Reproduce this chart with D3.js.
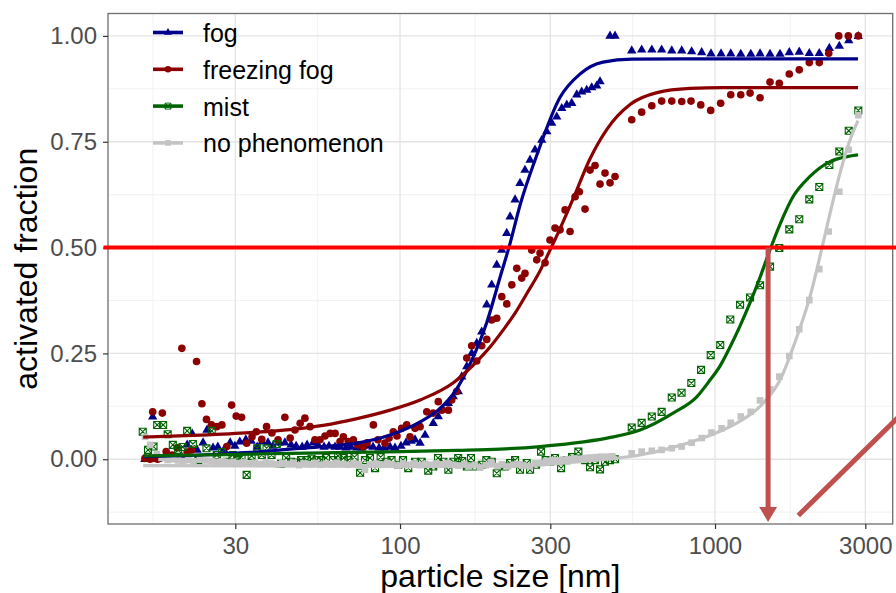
<!DOCTYPE html>
<html>
<head>
<meta charset="utf-8">
<script src="https://cdn.jsdelivr.net/npm/d3@7"></script>
<style>
	body { margin: 0; background: #fff; }
	svg { display: block; font-family: "Liberation Sans", Arial, sans-serif; }
</style>
</head>
<body>
<div id="chart"></div>
<script>
//// Activated fraction vs particle size ////

// Categories (legend order)
const seriesNames = ["fog", "freezing fog", "mist", "no phenomenon"];

// Axis ticks
const xTicks = [30, 100, 300, 1000, 3000];
const yTicks = [0, 0.25, 0.5, 0.75, 1.0];

// Measured points: [particle size nm, activated fraction]
const fogPts = [[15.5,0.000],[16.1,0.002],[16.4,0.100],[17.0,0.000],[17.8,0.003],[18.6,0.000],[19.5,0.003],[20.3,0.005],[21.1,0.034],[21.9,0.060],[22.7,0.022],[23.7,0.039],[24.4,0.069],[25.5,0.027],[26.4,0.029],[27.6,0.022],[28.9,0.039],[29.9,0.031],[31.0,0.041],[32.4,0.046],[33.7,0.043],[35.2,0.029],[36.5,0.041],[38.1,0.039],[39.5,0.031],[41.3,0.039],[43.1,0.039],[45.1,0.034],[46.8,0.031],[48.9,0.029],[50.7,0.034],[53.0,0.039],[54.9,0.034],[57.4,0.029],[59.5,0.031],[62.2,0.029],[64.5,0.029],[67.4,0.027],[69.9,0.029],[73.0,0.027],[75.8,0.027],[79.2,0.031],[82.1,0.029],[85.8,0.027],[89.0,0.027],[93.0,0.029],[96.4,0.027],[100.7,0.031],[104.5,0.039],[108.4,0.043],[111.6,0.046],[115.8,0.038],[120.1,0.057],[127.5,0.085],[132.3,0.101],[137.3,0.116],[142.4,0.132],[147.6,0.148],[153.1,0.160],[157.0,0.195],[162.9,0.219],[168.9,0.250],[175.2,0.274],[181.7,0.301],[188.5,0.365],[195.5,0.412],[202.8,0.459],[210.4,0.494],[218.2,0.534],[223.6,0.573],[231.9,0.613],[240.4,0.652],[249.3,0.683],[258.7,0.707],[268.3,0.731],[281.8,0.754],[292.3,0.774],[303.1,0.794],[314.4,0.809],[326.2,0.829],[338.4,0.837],[350.9,0.841],[364.0,0.861],[377.4,0.868],[391.5,0.872],[406.1,0.878],[421.2,0.882],[431.5,0.892],[464.2,1.000],[481.5,1.000],
	[544,0.965],[585,0.967],[630,0.967],[677,0.967],[729,0.965],[784,0.965],[843,0.963],[907,0.961],[971,0.958],[1045,0.958],[1122,0.958],[1207,0.957],[1299,0.957],[1390,0.958],[1495,0.957],[1608,0.957],[1721,0.961],[1851,0.962],[1992,0.959],[2143,0.959],[2306,0.971],[2481,0.976],[2658,0.989],[2850,0.999]];

const freezingPts = [[15.5,0.002],[16.1,0.000],[16.4,0.112],[17.0,0.000],[17.6,0.109],[18.1,0.018],[18.9,0.010],[19.6,0.027],[20.3,0.262],[21.1,0.017],[21.8,0.022],[22.6,0.231],[23.5,0.131],[24.3,0.094],[25.2,0.081],[26.2,0.077],[27.2,0.081],[28.2,0.030],[29.2,0.128],[30.2,0.102],[31.4,0.099],[32.6,0.038],[33.9,0.053],[35.0,0.065],[36.4,0.047],[37.7,0.077],[39.2,0.062],[41.0,0.046],[43.1,0.099],[44.8,0.050],[46.4,0.069],[48.2,0.085],[49.9,0.097],[51.8,0.077],[53.7,0.046],[55.7,0.046],[57.8,0.055],[60.0,0.061],[62.2,0.061],[64.5,0.042],[66.1,0.053],[68.5,0.042],[71.1,0.046],[73.4,0.034],[76.3,0.029],[78.6,0.039],[82.3,0.081],[85.1,0.046],[89.6,0.038],[92.3,0.050],[95.2,0.065],[97.8,0.055],[101.2,0.073],[105.0,0.081],[107.6,0.053],[111.6,0.073],[115.8,0.077],[121.6,0.112],[127.5,0.109],[132.3,0.136],[135.7,0.116],[142.4,0.116],[145.9,0.140],[151.3,0.160],[162.9,0.239],[168.9,0.268],[175.2,0.232],[181.7,0.268],[188.5,0.283],[195.5,0.329],[202.8,0.333],[210.4,0.384],[218.2,0.367],[226.4,0.412],[234.8,0.451],[243.4,0.428],[249.3,0.439],[261.9,0.494],[271.7,0.471],[278.3,0.487],[288.7,0.464],[299.4,0.518],[310.5,0.546],[322.2,0.542],[334.2,0.589],[346.6,0.538],[359.5,0.620],[370.9,0.632],[386.7,0.591],[401.1,0.683],[416.0,0.694],[431.5,0.650],[447.5,0.676],[464.2,0.653],[481.5,0.668],
	[544,0.802],[585,0.820],[630,0.835],[677,0.846],[729,0.846],[784,0.845],[839,0.846],[901,0.837],[969,0.824],[1042,0.841],[1122,0.861],[1207,0.861],[1292,0.865],[1390,0.854],[1495,0.891],[1600,0.888],[1721,0.910],[1851,0.920],[1992,0.937],[2143,0.937],[2296,0.959],[2470,1.000],[2650,1.000],[2850,1.000]];

const mistPts = [[15.25,0.065],[15.85,0.022],[16.5,0.030],[16.95,0.081],[17.7,0.081],[18.3,0.059],[19.0,0.034],[19.75,0.022],[20.4,0.029],[21.1,0.067],[22.0,0.036],[22.9,-0.002],[24.3,0.026],[25.25,0.067],[26.2,0.010],[27.2,0.017],[28.2,-0.006],[29.4,0.010],[30.4,-0.002],[31.4,0.005],[32.6,-0.037],[33.8,0.008],[35.2,0.026],[36.4,0.010],[37.7,0.026],[39.1,0.010],[40.6,0.036],[41.9,-0.011],[43.5,0.003],[45.1,-0.006],[46.8,-0.008],[48.5,-0.002],[50.6,-0.002],[52.4,0.001],[54.4,-0.002],[56.1,-0.002],[58.2,0.003],[61.3,-0.002],[63.6,0.008],[66.3,0.003],[68.6,-0.002],[71.7,0.005],[74.7,-0.032],[77.4,-0.002],[80.3,0.003],[83.3,-0.021],[86.8,0.005],[90.7,-0.006],[94.0,-0.002],[98.8,-0.013],[102.2,-0.002],[106.2,-0.021],[111.6,-0.006],[117.2,-0.006],[122.9,-0.027],[127.5,-0.017],[132.0,0.003],[137.3,-0.006],[142.4,-0.025],[147.6,-0.006],[153.0,0.003],[157.5,-0.004],[162.9,-0.017],[168.0,0.003],[172.6,-0.017],[181.7,-0.013],[188.0,-0.002],[195.5,-0.006],[202.8,-0.033],[215.0,-0.017],[223.6,-0.009],[231.9,-0.002],[240.4,-0.025],[252.5,-0.009],[258.7,-0.025],[270.3,-0.013],[280.3,0.018],[290.0,-0.002],[299.4,-0.006],[310.5,0.003],[324.6,-0.021],[338.4,-0.002],[351.7,0.005],[368.3,0.018],[386.7,-0.002],[401.1,-0.019],[416.0,-0.002],[431.5,-0.024],[447.5,-0.006],[464.2,-0.002],[481.5,0.000],
	[544,0.075],[585,0.086],[630,0.101],[677,0.112],[729,0.146],[783,0.157],[841,0.180],[903,0.211],[969,0.246],[1039,0.270],[1118,0.330],[1201,0.365],[1292,0.382],[1390,0.411],[1495,0.455],[1600,0.499],[1721,0.543],[1851,0.567],[1992,0.614],[2143,0.643],[2306,0.695],[2481,0.727],[2658,0.776],[2850,0.824]];

const noPhenPts = [[15.5,0.053],[16.1,0.034],[16.9,0.012],[17.5,0.003],[18.3,-0.002],[19.0,0.000],[19.75,-0.003],[20.5,-0.004],[21.4,-0.002],[22.1,-0.005],[23.2,-0.001],[24.1,-0.003],[25.2,-0.004],[26.2,-0.006],[27.3,-0.005],[28.3,-0.008],[29.5,-0.006],[30.6,-0.009],[31.9,-0.007],[33.1,-0.010],[34.6,-0.008],[35.9,-0.011],[37.5,-0.007],[39.0,-0.010],[40.7,-0.012],[42.3,-0.009],[44.1,-0.011],[45.9,-0.008],[47.8,-0.014],[49.6,-0.010],[51.8,-0.012],[53.7,-0.009],[56.1,-0.013],[58.2,-0.010],[60.9,-0.012],[63.0,-0.008],[66.0,-0.011],[68.5,-0.013],[71.5,-0.009],[74.1,-0.012],[77.4,-0.025],[80.3,-0.012],[83.9,-0.010],[87.0,-0.013],[91.0,-0.009],[94.3,-0.012],[98.5,-0.015],[102.2,-0.010],[106.8,-0.013],[110.8,-0.010],[115.8,-0.014],[120.1,-0.011],[125.4,-0.013],[130.1,-0.010],[135.9,-0.012],[141.1,-0.009],[147.6,-0.013],[153.1,-0.015],[160.0,-0.011],[165.6,-0.017],[173.0,-0.013],[179.5,-0.020],[187.1,-0.014],[194.5,-0.007],[203.3,-0.016],[210.8,-0.012],[220.3,-0.017],[228.5,-0.013],[238.7,-0.012],[247.4,-0.015],[258.7,-0.017],[268.3,-0.010],[280.3,-0.009],[290.6,-0.004],[303.8,-0.002],[314.7,-0.003],[329.4,-0.001],[341.6,0.000],[356.9,0.002],[370.1,0.001],[386.7,0.003],[401.1,0.004],[419.0,0.005],[434.7,0.006],[455.3,0.006],[472.0,0.007],
	[544,0.014],[585,0.018],[630,0.020],[677,0.022],[729,0.026],[784,0.030],[843,0.039],[907,0.050],[975,0.063],[1049,0.073],[1122,0.086],[1207,0.101],[1299,0.112],[1390,0.139],[1495,0.165],[1600,0.195],[1721,0.244],[1851,0.307],[1992,0.376],[2143,0.449],[2296,0.538],[2481,0.632],[2658,0.731],[2850,0.813]];

// Fitted curves: [particle size nm, activated fraction]
const fogFit = [[15.3,0.006],[23.2,0.010],[33.4,0.016],[44.8,0.024],[57.0,0.030],[73.1,0.038],[93.0,0.057],[115.8,0.088],[134.0,0.120],[149.5,0.160],[166.8,0.225],[188.9,0.325],[207.8,0.430],[223.6,0.510],[240.4,0.600],[272.3,0.720],[322.2,0.855],[372.8,0.910],[441.1,0.938],[545.2,0.945],[896.2,0.946],[2844,0.946]];
const freezingFit = [[15.3,0.052],[23.2,0.057],[33.4,0.063],[44.8,0.070],[57.0,0.080],[73.1,0.096],[93.0,0.116],[115.8,0.140],[147.3,0.180],[170.5,0.222],[193.1,0.265],[212.4,0.305],[231.9,0.345],[253.0,0.392],[278.3,0.445],[299.4,0.494],[322.2,0.545],[354.3,0.615],[401.1,0.710],[454.2,0.780],[537.3,0.838],[654.4,0.866],[833.0,0.876],[1060,0.878],[2844,0.878]];
const mistFit = [[15.3,0.008],[23.2,0.010],[33.4,0.012],[44.8,0.014],[69.4,0.016],[100,0.018],[151.7,0.021],[207.8,0.024],[278.3,0.030],[354.3,0.038],[454.2,0.050],[578.0,0.069],[735.7,0.109],[876.7,0.148],[964.1,0.187],[1037,0.220],[1116,0.265],[1201,0.315],[1292,0.370],[1390,0.430],[1495,0.495],[1608,0.555],[1768,0.620],[2002,0.668],[2318,0.703],[2625,0.715],[2844,0.719]];
const noPhenFit = [[15.3,-0.015],[100,-0.017],[200,-0.016],[278.3,-0.013],[354.3,-0.007],[454.2,0.000],[578.0,0.010],[735.7,0.028],[896.2,0.048],[1037,0.066],[1201,0.090],[1390,0.125],[1608,0.187],[1821,0.290],[2002,0.384],[2154,0.479],[2318,0.581],[2494,0.676],[2683,0.754],[2844,0.800]];

// Annotations (data units)
const threshold = 0.5;
const mistD50 = 1474;
const arrowTipY = -0.148;
const slantFrom = [1838, -0.133];
const slantTo = [4478, 0.150];

function main() {
	const width = 896, height = 593;
	const margin = {top: 13.5, right: 3.3, bottom: 69, left: 108};

	const colors = ["#00008b", "#8b0000", "#006400", "#c4c4c4"];
	const shapes = ["triangle", "circle", "squarex", "square"];
	const series = seriesNames.map((name, i) => ({
		name: name,
		pts: [fogPts, freezingPts, mistPts, noPhenPts][i],
		fit: [fogFit, freezingFit, mistFit, noPhenFit][i],
		color: colors[i],
		shape: shapes[i]
	}));

	const x = d3.scaleLog().domain([11.83, 3665]).range([margin.left, width - margin.right]);
	const y = d3.scaleLinear().domain([-0.153, 1.053]).range([height - margin.bottom, margin.top]);

	const svg = d3.select("#chart").append("svg")
		.attr("width", width)
		.attr("height", height);

	// Grid: minor lines sit halfway (in transformed space) between majors
	const xMinor = d3.pairs([xTicks[0] * xTicks[0] / xTicks[1]].concat(xTicks)).map(([a, b]) => Math.sqrt(a * b));
	const yStep = yTicks[1] - yTicks[0];
	const yMinor = d3.range(yTicks[0] - yStep / 2, y.domain()[1], yStep);

	const grid = svg.append("g");
	grid.selectAll(".xminor").data(xMinor).enter().append("line")
		.attr("x1", d => x(d)).attr("x2", d => x(d))
		.attr("y1", margin.top).attr("y2", height - margin.bottom)
		.attr("stroke", "#f0f0f0").attr("stroke-width", 0.9);
	grid.selectAll(".yminor").data(yMinor).enter().append("line")
		.attr("x1", margin.left).attr("x2", width - margin.right)
		.attr("y1", d => y(d)).attr("y2", d => y(d))
		.attr("stroke", "#f0f0f0").attr("stroke-width", 0.9);
	grid.selectAll(".xmajor").data(xTicks).enter().append("line")
		.attr("x1", d => x(d)).attr("x2", d => x(d))
		.attr("y1", margin.top).attr("y2", height - margin.bottom)
		.attr("stroke", "#e4e4e4").attr("stroke-width", 1.3);
	grid.selectAll(".ymajor").data(yTicks).enter().append("line")
		.attr("x1", margin.left).attr("x2", width - margin.right)
		.attr("y1", d => y(d)).attr("y2", d => y(d))
		.attr("stroke", "#e4e4e4").attr("stroke-width", 1.3);

	svg.append("clipPath").attr("id", "panel")
		.append("rect")
		.attr("x", margin.left).attr("y", margin.top)
		.attr("width", width - margin.left - margin.right)
		.attr("height", height - margin.top - margin.bottom);

	// Marker shapes
	function markerPath(shape) {
		if (shape === "triangle") return d3.symbol(d3.symbolTriangle, 38)();
		if (shape === "circle") return d3.symbol(d3.symbolCircle, 46)();
		if (shape === "square") return d3.symbol(d3.symbolSquare, 44)();
		return "M-3.5,-3.5h7v7h-7zM-3.5,-3.5L3.5,3.5M3.5,-3.5L-3.5,3.5";
	}
	function styleMarker(sel, s) {
		if (s.shape === "squarex") {
			sel.attr("fill", "none").attr("stroke", s.color).attr("stroke-width", 1.1);
		} else {
			sel.attr("fill", s.color).attr("stroke", "none");
		}
	}

	const plot = svg.append("g").attr("clip-path", "url(#panel)");

	// Points
	series.forEach(s => {
		plot.append("g").selectAll("path")
			.data(s.pts)
			.enter()
			.append("path")
			.attr("d", markerPath(s.shape))
			.attr("transform", d => "translate(" + x(d[0]) + "," + y(d[1]) + ")")
			.call(styleMarker, s);
	});

	// Fitted curves
	const line = d3.line()
		.x(d => x(d[0]))
		.y(d => y(d[1]))
		.curve(d3.curveMonotoneX);
	series.forEach(s => {
		plot.append("path")
			.datum(s.fit)
			.attr("d", line)
			.attr("fill", "none")
			.attr("stroke", s.color)
			.attr("stroke-width", 3.2);
	});

	// Panel border
	svg.append("rect")
		.attr("x", margin.left).attr("y", margin.top)
		.attr("width", width - margin.left - margin.right)
		.attr("height", height - margin.top - margin.bottom)
		.attr("fill", "none")
		.attr("stroke", "#6e6e6e")
		.attr("stroke-width", 1.3);

	// Axes
	const yAxis = svg.append("g")
		.attr("transform", "translate(" + margin.left + ",0)")
		.call(d3.axisLeft(y).tickValues(yTicks).tickFormat(d3.format(".2f")).tickSize(5).tickPadding(6));
	const xAxis = svg.append("g")
		.attr("transform", "translate(0," + (height - margin.bottom) + ")")
		.call(d3.axisBottom(x).tickValues(xTicks).tickFormat(d3.format("d")).tickSize(5).tickPadding(8));
	[xAxis, yAxis].forEach(ax => {
		ax.select(".domain").remove();
		ax.selectAll(".tick line").attr("stroke", "#333").attr("stroke-width", 1.2);
		ax.selectAll(".tick text")
			.attr("fill", "#4d4d4d")
			.style("font-size", "24px")
			.style("font-family", "'Liberation Sans', Arial, sans-serif");
	});

	// Axis titles
	svg.append("text")
		.attr("x", (margin.left + width - margin.right) / 2)
		.attr("y", 587)
		.attr("text-anchor", "middle")
		.style("font-size", "32px")
		.attr("fill", "#000")
		.text("particle size [nm]");
	svg.append("text")
		.attr("transform", "translate(37," + (margin.top + height - margin.bottom) / 2 + ") rotate(-90)")
		.attr("text-anchor", "middle")
		.style("font-size", "32px")
		.attr("fill", "#000")
		.text("activated fraction");

	// Legend (inside panel, top left)
	const legend = svg.append("g");
	series.forEach((s, i) => {
		const ly = 32.5 + i * 36.8;
		legend.append("line")
			.attr("x1", 153).attr("x2", 183)
			.attr("y1", ly).attr("y2", ly)
			.attr("stroke", s.color)
			.attr("stroke-width", 3.6);
		legend.append("path")
			.attr("d", markerPath(s.shape))
			.attr("transform", "translate(168," + ly + ") scale(0.85)")
			.call(styleMarker, s);
		legend.append("text")
			.attr("x", 203)
			.attr("y", ly + 9.5)
			.style("font-size", "25px")
			.attr("fill", "#000")
			.text(s.name);
	});

	// Annotations drawn on top
	const annoColor = "#c0504d";
	svg.append("line")
		.attr("x1", margin.left - 4.5).attr("x2", width)
		.attr("y1", y(threshold)).attr("y2", y(threshold))
		.attr("stroke", "#ff0000")
		.attr("stroke-width", 4);

	const ax = x(mistD50), tipY = y(arrowTipY);
	svg.append("line")
		.attr("x1", ax).attr("x2", ax)
		.attr("y1", y(threshold)).attr("y2", tipY - 12)
		.attr("stroke", annoColor)
		.attr("stroke-width", 5);
	svg.append("path")
		.attr("d", d3.line()([[ax - 9, tipY - 15], [ax + 9, tipY - 15], [ax, tipY]]) + "Z")
		.attr("fill", annoColor);

	svg.append("line")
		.attr("x1", x(slantFrom[0])).attr("y1", y(slantFrom[1]))
		.attr("x2", x(slantTo[0])).attr("y2", y(slantTo[1]))
		.attr("stroke", annoColor)
		.attr("stroke-width", 5);
}

main();
</script>
</body>
</html>
